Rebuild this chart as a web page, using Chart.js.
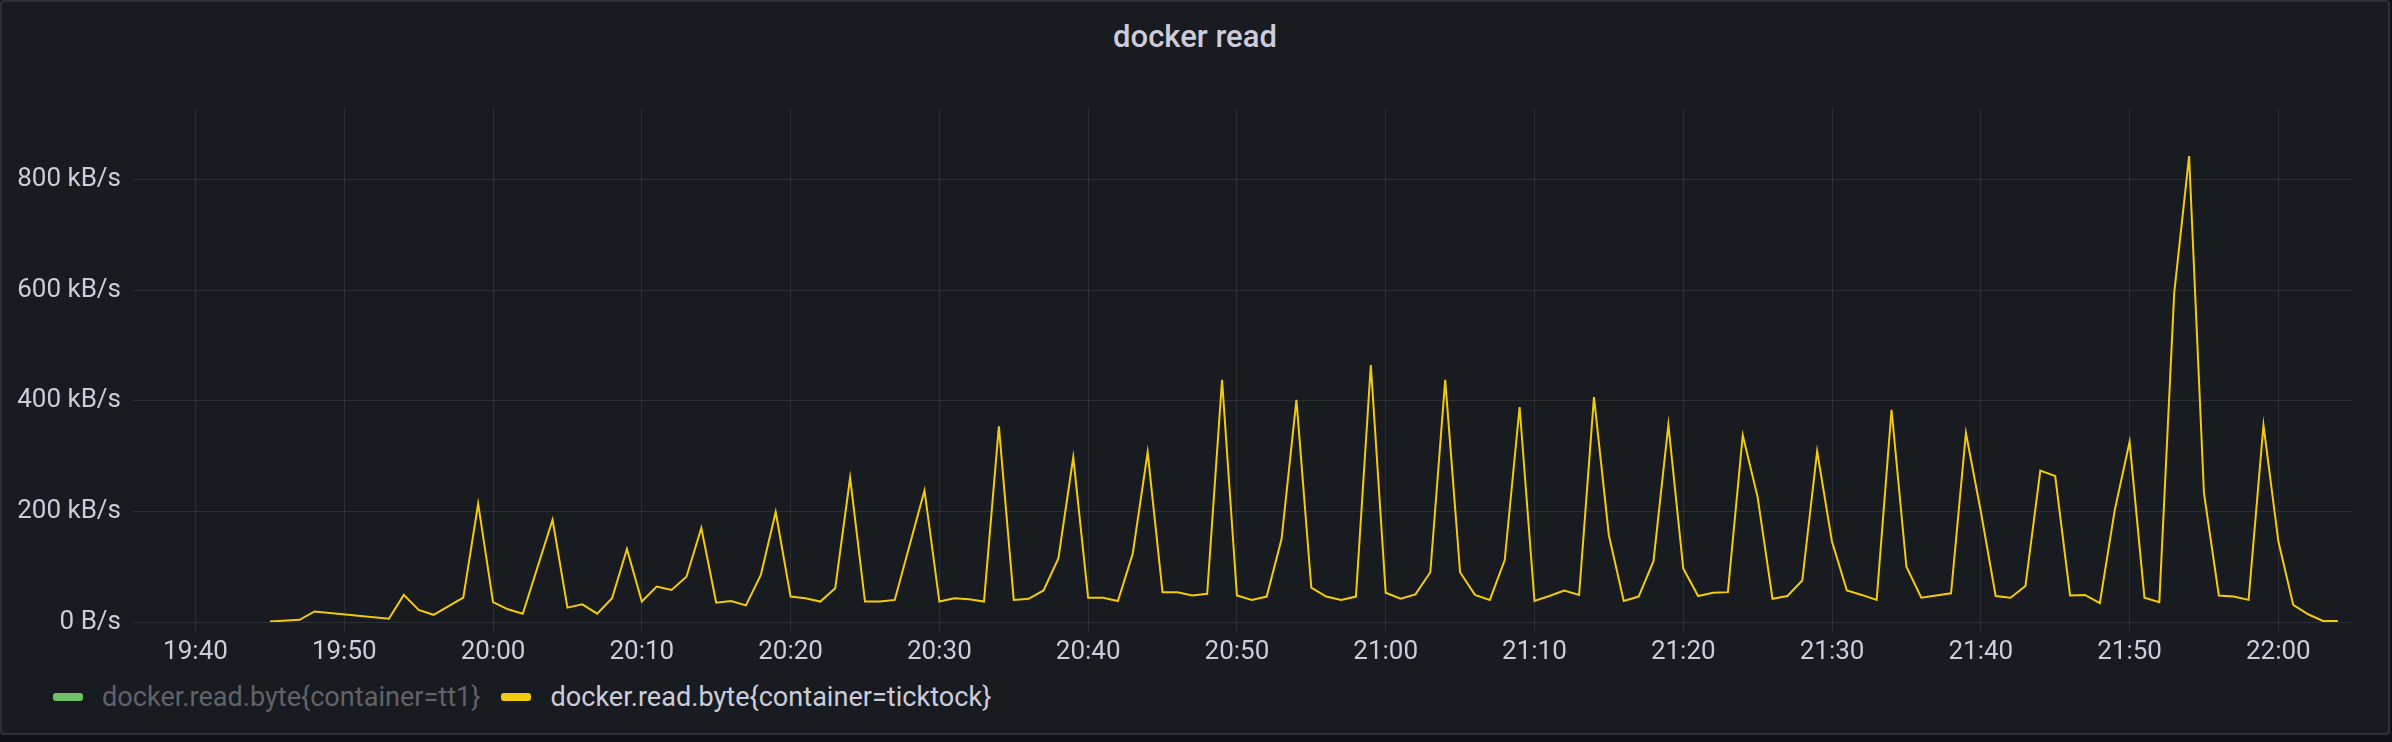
<!DOCTYPE html>
<html>
<head>
<meta charset="utf-8">
<title>docker read</title>
<script src="https://cdn.jsdelivr.net/npm/chart.js@4.4.1/dist/chart.umd.min.js"></script>
<style>
  html, body { margin: 0; padding: 0; }
  body {
    width: 2392px; height: 742px; overflow: hidden;
    background: #111217;
    font-family: Roboto, "Noto Sans", sans-serif;
    position: relative;
  }
  #panel {
    position: absolute; left: 0; top: 0;
    width: 2390px; height: 735px;
    box-sizing: border-box;
    background: #181b1f;
    border: 2px solid rgba(204, 204, 220, 0.12);
    border-radius: 4px;
  }
  #title {
    position: absolute; left: 0; top: 21px; width: 2390px;
    text-align: center;
    font-size: 31px; font-weight: 500; line-height: 31px;
    color: #ccccdc;
  }
  #wrap {
    position: absolute; left: 0; top: 0;
    width: 2392px; height: 680px;
  }
  #legend {
    position: absolute; left: 53px; top: 681px; height: 32px;
    display: flex; align-items: center;
    font-size: 27.1px; line-height: 32px;
  }
  .item { display: flex; align-items: center; margin-right: 21px; color: #ccccdc; }
  .item.off { color: rgba(204, 204, 220, 0.42); }
  .swatch { width: 30px; height: 8px; border-radius: 3px; margin-right: 19px; }
</style>
</head>
<body>
<div id="panel"></div>
<div id="title">docker read</div>
<div id="wrap"><canvas id="readChart"></canvas></div>
<div id="legend"></div>

<script>
// docker read rate per minute, kB/s

const seriesNames = [
  "docker.read.byte{container=tt1}",
  "docker.read.byte{container=ticktock}",
];
const seriesColors = ["#73bf69", "#f2cc0c"];

const times = [
  "19:45", "19:47", "19:48", "19:53", "19:54", "19:55", "19:56", "19:58", "19:59",
  "20:00", "20:01", "20:02", "20:04", "20:05", "20:06", "20:07", "20:08", "20:09",
  "20:10", "20:11", "20:12", "20:13", "20:14", "20:15", "20:16", "20:17", "20:18", "20:19",
  "20:20", "20:21", "20:22", "20:23", "20:24", "20:25", "20:26", "20:27", "20:29",
  "20:30", "20:31", "20:32", "20:33", "20:34", "20:35", "20:36", "20:37", "20:38", "20:39",
  "20:40", "20:41", "20:42", "20:43", "20:44", "20:45", "20:46", "20:47", "20:48", "20:49",
  "20:50", "20:51", "20:52", "20:53", "20:54", "20:55", "20:56", "20:57", "20:58", "20:59",
  "21:00", "21:01", "21:02", "21:03", "21:04", "21:05", "21:06", "21:07", "21:08", "21:09",
  "21:10", "21:11", "21:12", "21:13", "21:14", "21:15", "21:16", "21:17", "21:18", "21:19",
  "21:20", "21:21", "21:22", "21:23", "21:24", "21:25", "21:26", "21:27", "21:28", "21:29",
  "21:30", "21:31", "21:32", "21:33", "21:34", "21:35", "21:36", "21:37", "21:38", "21:39",
  "21:40", "21:41", "21:42", "21:43", "21:44", "21:45", "21:46", "21:47", "21:48", "21:49",
  "21:50", "21:51", "21:52", "21:53", "21:54", "21:55", "21:56", "21:57", "21:58", "21:59",
  "22:00", "22:01", "22:02", "22:03", "22:04",
];

const ticktockRead = [
  1, 4, 19, 6, 49, 22, 13, 44, 214,
  36, 23, 15, 185, 26, 32, 15, 43, 132,
  37, 64, 58, 82, 170, 35, 38, 30, 85, 199,
  46, 43, 37, 61, 261, 37, 37, 40, 238,
  37, 43, 41, 37, 354, 40, 42, 57, 115, 298,
  44, 44, 38, 124, 307, 54, 54, 48, 51, 438,
  48, 40, 46, 150, 402, 62, 46, 40, 46, 465,
  53, 42, 50, 90, 438, 90, 49, 40, 112, 389,
  38, 47, 57, 49, 407, 157, 38, 46, 110, 357,
  97, 47, 53, 54, 338, 226, 42, 47, 75, 309,
  145, 57, 49, 40, 384, 100, 44, 48, 52, 342,
  200, 47, 44, 65, 274, 264, 48, 49, 34, 202,
  326, 44, 36, 595, 843, 233, 48, 46, 40, 356,
  146, 31, 14, 2, 2,
];

const xTickLabels = [
  "19:40", "19:50", "20:00", "20:10", "20:20", "20:30", "20:40", "20:50",
  "21:00", "21:10", "21:20", "21:30", "21:40", "21:50", "22:00",
];
const yTickValues = [0, 200, 400, 600, 800];

function toMin(s) {
  const p = s.split(":");
  return Number(p[0]) * 60 + Number(p[1]);
}
function fmtTime(m) {
  const h = Math.floor(m / 60);
  const mm = Math.round(m - h * 60);
  return String(h).padStart(2, "0") + ":" + String(mm).padStart(2, "0");
}

const gridColor = "rgba(240, 250, 255, 0.09)";
const textColor = "#ccccdc";

const data = {
  datasets: [
    {
      label: seriesNames[0],
      data: [],
      hidden: true,
      borderColor: seriesColors[0],
      backgroundColor: seriesColors[0],
    },
    {
      label: seriesNames[1],
      data: times.map((t, i) => ({ x: toMin(t), y: ticktockRead[i] })),
      borderColor: seriesColors[1],
      backgroundColor: seriesColors[1],
      borderWidth: 2,
      pointRadius: 0,
      tension: 0,
    },
  ],
};

const config = {
  type: "line",
  data: data,
  options: {
    responsive: true,
    maintainAspectRatio: false,
    animation: false,
    layout: { padding: { top: 108, right: 40, left: 0, bottom: 0 } },
    plugins: {
      legend: { display: false },
      title: { display: false },
      tooltip: { enabled: false },
    },
    scales: {
      x: {
        type: "linear",
        min: toMin("19:35") + 0.8,
        max: toMin("22:04") + 0.95,
        afterBuildTicks: (scale) => {
          scale.ticks = xTickLabels.map((s) => ({ value: toMin(s) }));
        },
        afterFit: (scale) => { scale.height = 58; },
        grid: { color: gridColor, tickColor: gridColor, tickLength: 10, drawTicks: true },
        border: { display: false },
        ticks: {
          color: textColor,
          font: { family: "Roboto", size: 26 },
          padding: 5,
          maxRotation: 0,
          autoSkip: false,
          callback: (v) => fmtTime(v),
        },
      },
      y: {
        min: 0,
        max: 930,
        afterBuildTicks: (scale) => {
          scale.ticks = yTickValues.map((v) => ({ value: v }));
        },
        afterFit: (scale) => { scale.width = 133; },
        grid: { color: gridColor, drawTicks: false },
        border: { display: false },
        ticks: {
          color: textColor,
          font: { family: "Roboto", size: 26 },
          padding: 12,
          callback: (v) => (v === 0 ? "0 B/s" : v + " kB/s"),
        },
      },
    },
  },
};

const readChart = new Chart(document.getElementById("readChart"), config);

// grafana style legend, built from the datasets
const legend = document.getElementById("legend");
readChart.data.datasets.forEach((ds) => {
  const item = document.createElement("div");
  item.className = "item" + (ds.hidden ? " off" : "");
  const sw = document.createElement("span");
  sw.className = "swatch";
  sw.style.background = ds.borderColor;
  const txt = document.createElement("span");
  txt.textContent = ds.label;
  item.appendChild(sw);
  item.appendChild(txt);
  legend.appendChild(item);
});
</script>
</body>
</html>
